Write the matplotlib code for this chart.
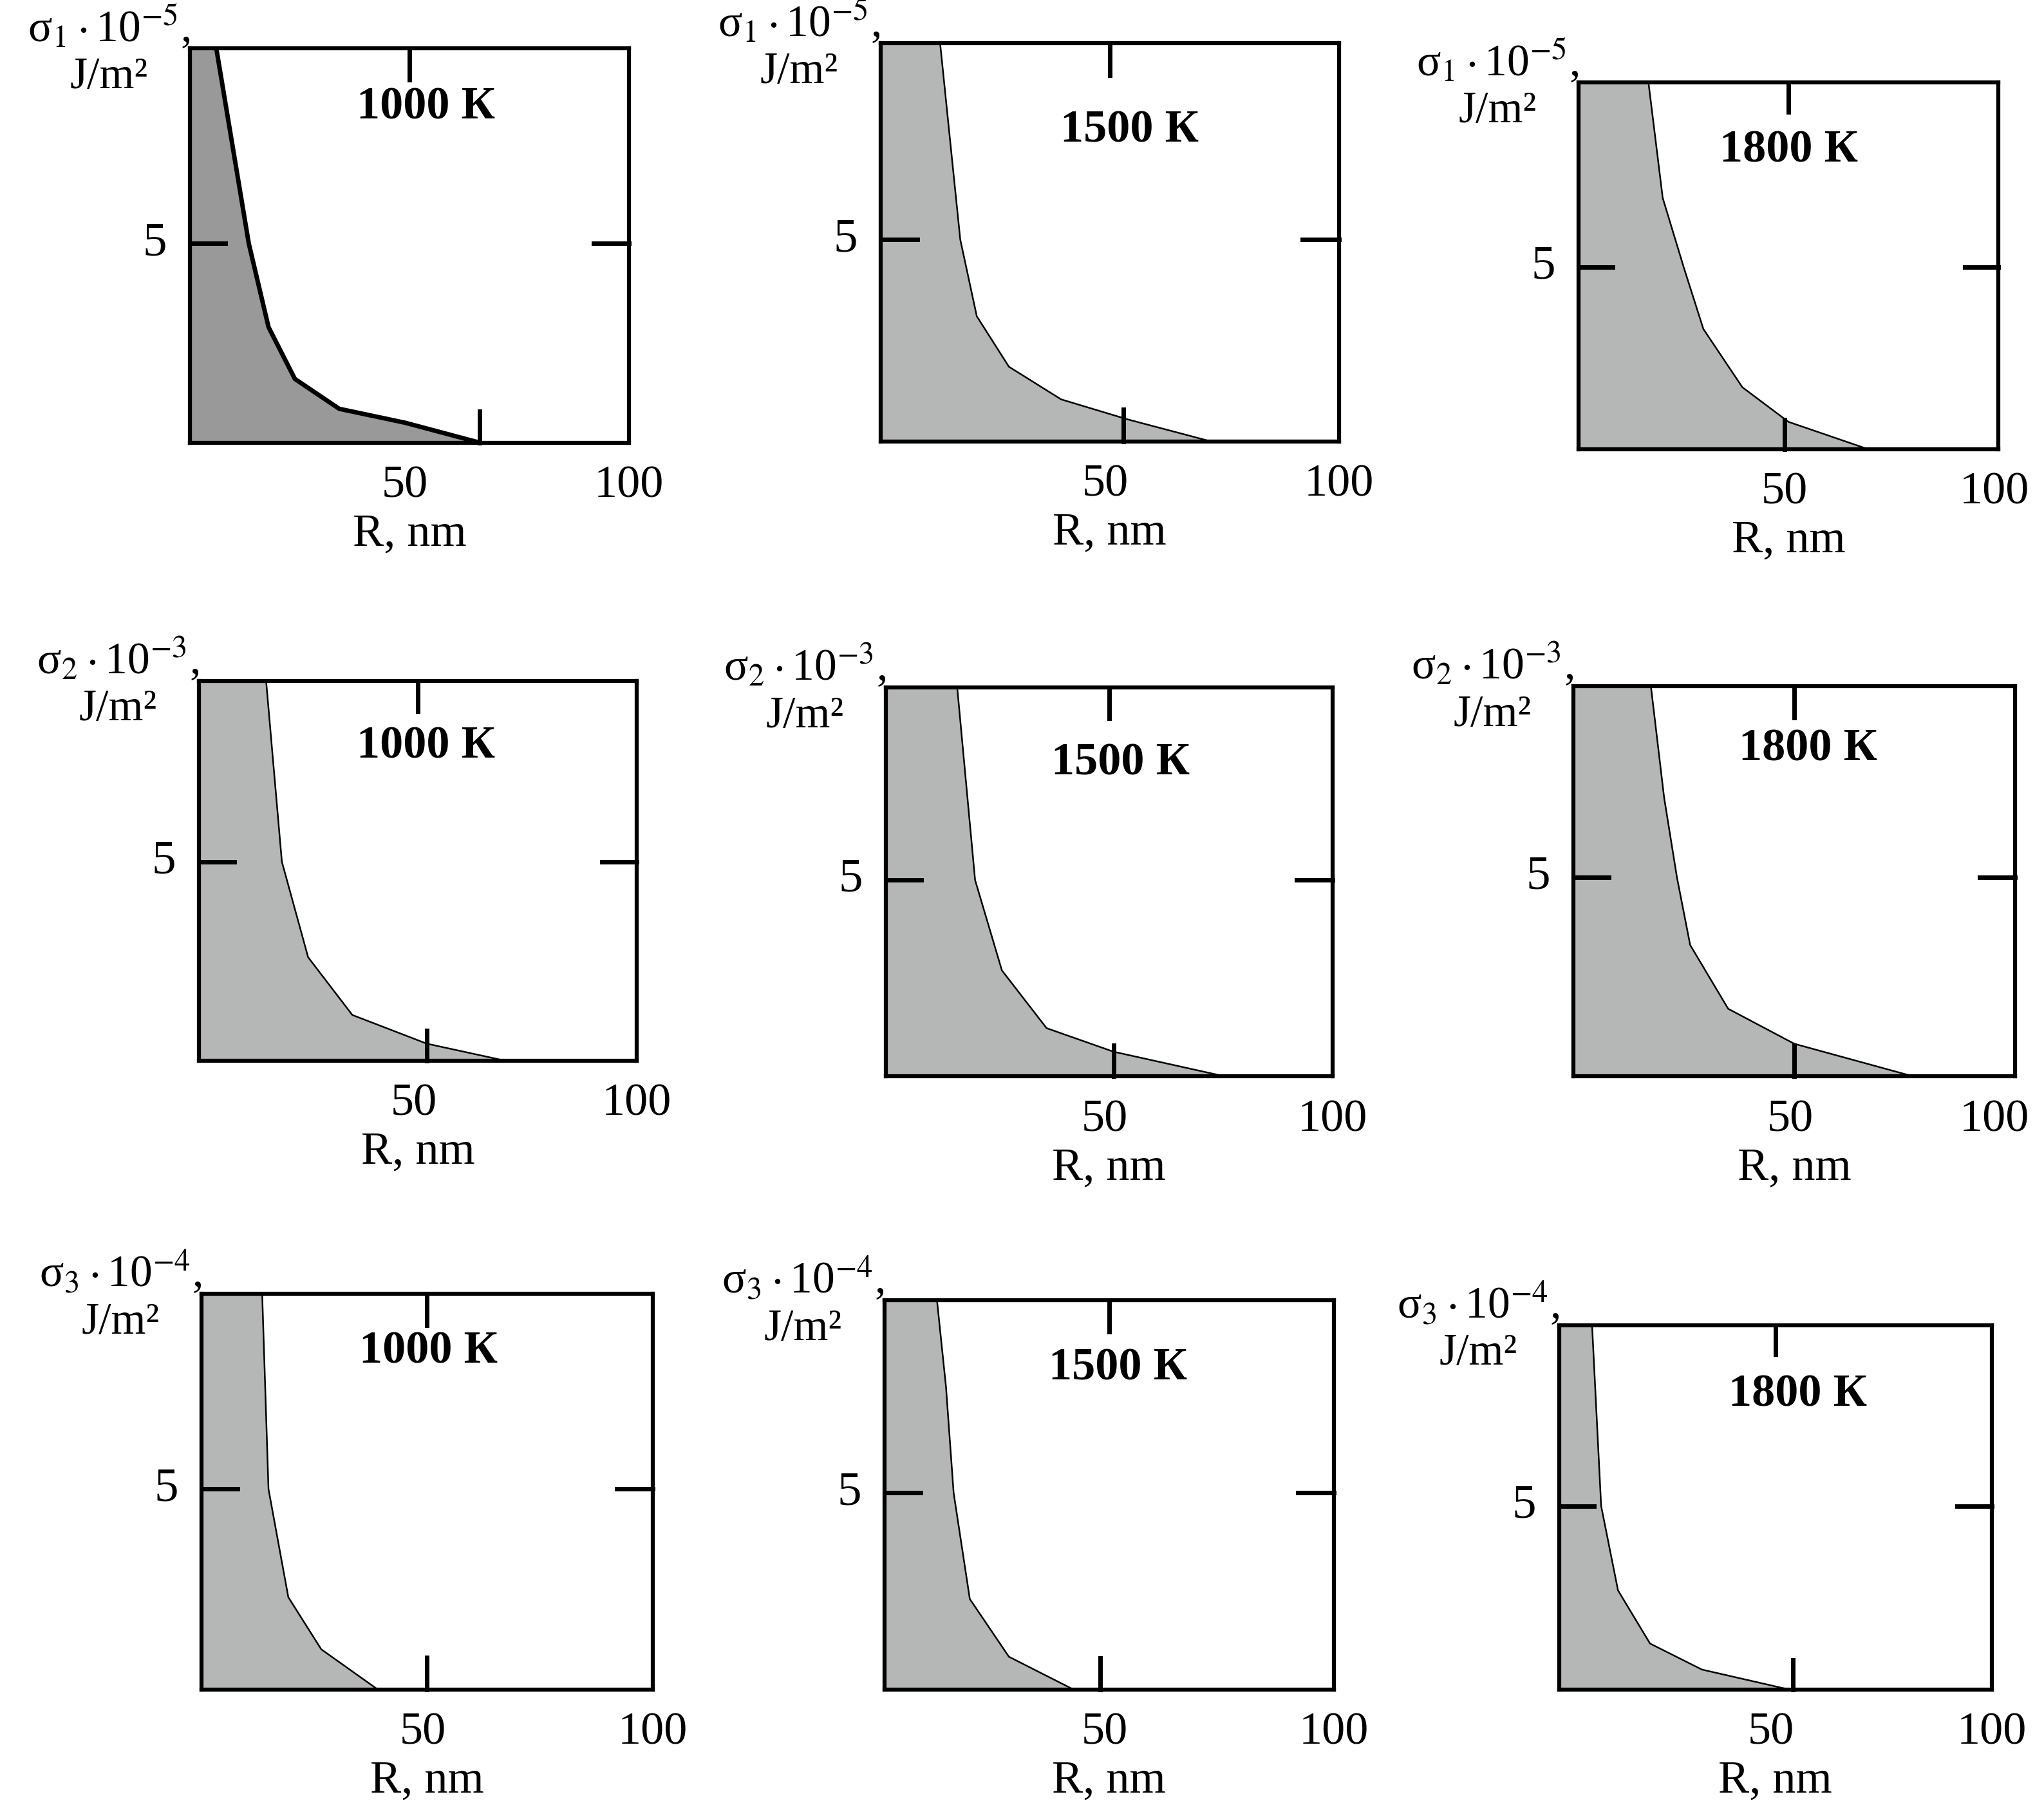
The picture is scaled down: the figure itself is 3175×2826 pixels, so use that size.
import matplotlib
matplotlib.use("Agg")
import matplotlib.pyplot as plt
import numpy as np

plt.rcParams['font.family'] = ['Liberation Serif', 'DejaVu Serif']
plt.rcParams['mathtext.fontset'] = 'stix'

temps = ["1000 К", "1500 К", "1800 К"] * 3
ylabels = ["σ$_1\\cdot$10$^{-5}$,"] * 3 + ["σ$_2\\cdot$10$^{-3}$,"] * 3 + ["σ$_3\\cdot$10$^{-4}$,"] * 3
ymax = [9.9, 9.87, 10.07, 9.54, 9.9, 9.8, 9.87, 9.9, 9.93]
bottom_tick = [66, 53, 49, 52, 51, 50, 50, 48, 54]
R = [
    [6, 13.4, 17.9, 23.9, 34, 49, 66],
    [13, 17.4, 21, 28, 39.4, 53.7, 72],
    [16.6, 20, 25, 29.7, 39, 50, 69],
    [15.3, 18.9, 24.9, 35, 52, 70],
    [16, 20, 26, 36, 51, 76],
    [17.5, 20.5, 23.4, 26.4, 35, 50, 77],
    [13.4, 14.8, 19.2, 26.5, 39],
    [11.7, 13.7, 15.4, 19, 27.7, 42],
    [7.6, 9.7, 13.6, 21, 33, 53],
]
S = [
    [9.9, 5, 2.9, 1.6, 0.85, 0.5, 0],
    [9.87, 5, 3.1, 1.85, 1.04, 0.55, 0],
    [10.07, 6.9, 5, 3.3, 1.7, 0.75, 0],
    [9.54, 5, 2.6, 1.15, 0.43, 0],
    [9.9, 5, 2.7, 1.23, 0.63, 0],
    [9.8, 7, 5, 3.3, 1.7, 0.82, 0],
    [9.87, 5, 2.3, 1.0, 0],
    [9.9, 7.7, 5, 2.3, 0.83, 0],
    [9.93, 5, 2.7, 1.25, 0.54, 0],
]
# axes boxes in reference display pixels (x0, y0, x1, y1) on a 1560x1389 canvas
boxes = [(145, 37, 480, 338), (672, 33, 1022, 337), (1205, 63, 1525, 343),
         (152, 520, 486, 810), (676, 525, 1017, 822), (1201, 524, 1538, 822),
         (154, 988, 498, 1290), (675, 993, 1018, 1290), (1190, 1012, 1520, 1290)]
title_pos = [(325, 82), (862, 100), (1365, 115), (325, 570), (855, 583), (1380, 572),
             (327, 1032), (853, 1045), (1372, 1065)]

W, H = 1560, 1389
fig = plt.figure(figsize=(31.75, 28.26), dpi=100)

def fx(x): return x / W
def fy(y): return 1 - y / H

for i in range(9):
    x0, y0, x1, y1 = boxes[i]
    ax = fig.add_axes([fx(x0), fy(y1), fx(x1) - fx(x0), fy(y0) - fy(y1)])
    ax.set_xlim(0, 100)
    ax.set_ylim(0, ymax[i])
    xs = np.array([0] + R[i])
    ys = np.array([ymax[i]] + S[i])
    fillc = '#999999' if i == 0 else '#b5b7b6'
    ax.fill_between(xs, ys, 0, color=fillc, lw=0)
    ax.plot(R[i], S[i], color='black', lw=5 if i == 0 else 1.8,
            solid_capstyle='round', solid_joinstyle='round')
    for sp in ax.spines.values():
        sp.set_linewidth(4.5)
    ax.set_xticks([]); ax.set_yticks([])
    yt = ax.get_yaxis_transform(); xt = ax.get_xaxis_transform()
    ax.plot([0, 0.08], [5, 5], transform=yt, color='k', lw=5, clip_on=False)
    ax.plot([0.92, 1.0], [5, 5], transform=yt, color='k', lw=5, clip_on=False)
    ax.plot([50, 50], [0.92, 1.0], transform=xt, color='k', lw=5, clip_on=False)
    ax.plot([bottom_tick[i]] * 2, [0, 0.08], transform=xt, color='k', lw=5, clip_on=False)
    fig.text(fx(x0 - 27), fy(y0) + (fy(y1) - fy(y0)) * (1 - 5 / ymax[i]), "5",
             fontsize=54, ha='center', va='center')
    fig.text(fx(x0 + 0.49 * (x1 - x0)), fy(y1 + 33), "50", fontsize=52, ha='center', va='center')
    fig.text(fx(min(x1, 1522)), fy(y1 + 33), "100", fontsize=52, ha='center', va='center')
    fig.text(fx(x0 + 0.5 * (x1 - x0)), fy(y1 + 70), "R, nm", fontsize=52, ha='center', va='center')
    fig.text(fx(x0 - 62), fy(y0 - 16), ylabels[i], fontsize=50, ha='center', va='center')
    fig.text(fx(x0 - 62), fy(y0 + 22), "J/m²", fontsize=50, ha='center', va='center')
    tx, ty = title_pos[i]
    fig.text(fx(tx), fy(ty), temps[i], fontsize=52, fontweight='bold', ha='center', va='center')

fig.savefig("out.png", dpi=100)
